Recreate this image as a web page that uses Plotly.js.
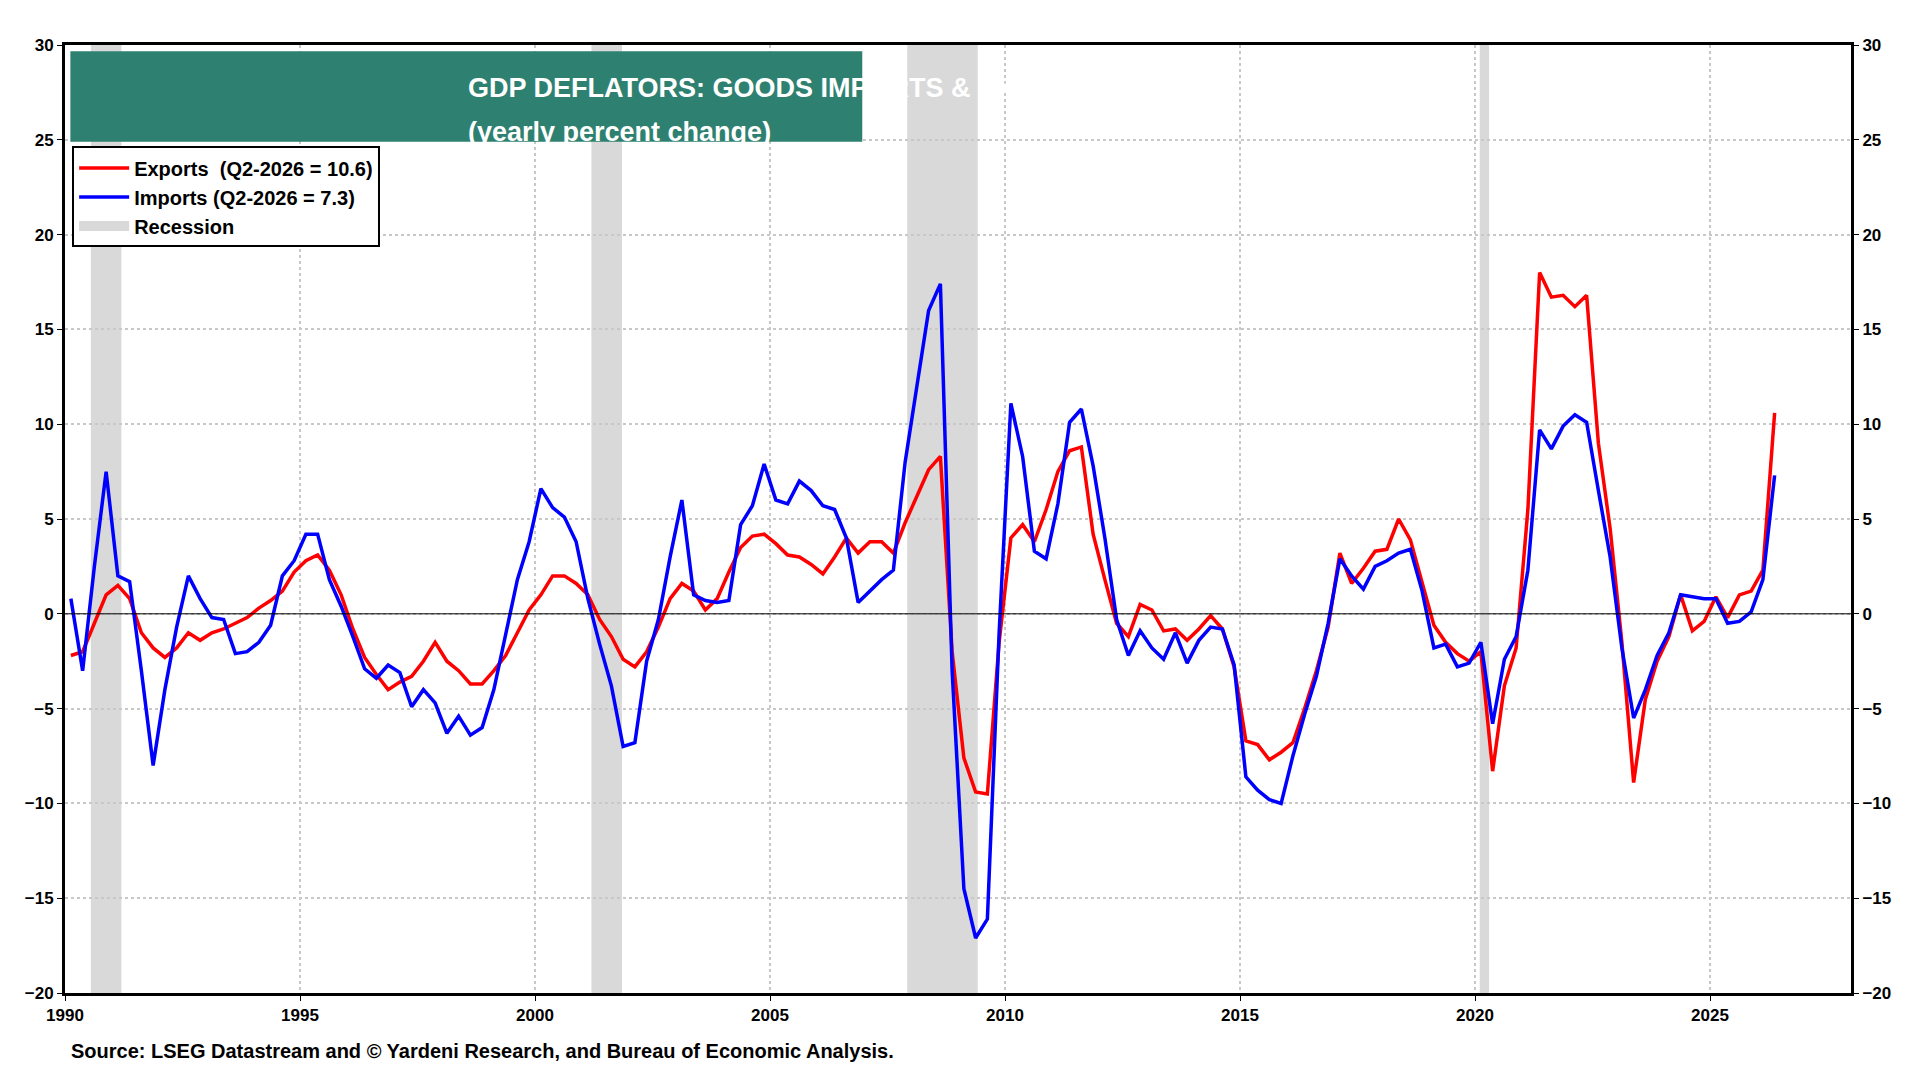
<!DOCTYPE html>
<html><head><meta charset="utf-8">
<script src="https://cdn.plot.ly/plotly-3.0.1.min.js"></script>
<style>body{margin:0;background:#fff}#c{width:1920px;height:1080px}</style>
</head><body><div id="c"></div>
<script>
const startYear = 1990;
const exportsVals = [
-2.2,-2.0,-0.5,1.0, 1.5,0.8,-1.0,-1.8, -2.3,-1.8,-1.0,-1.4, -1.0,-0.8,-0.5,-0.2,
0.3,0.7,1.2,2.2, 2.8,3.1,2.3,1.0, -0.8,-2.3,-3.2,-4.0, -3.6,-3.3,-2.5,-1.5,
-2.5,-3.0,-3.7,-3.7, -3.0,-2.2,-1.0,0.2, 1.0,2.0,2.0,1.6, 1.0,-0.3,-1.2,-2.4,
-2.8,-2.0,-0.7,0.8, 1.6,1.2,0.2,0.8, 2.2,3.5,4.1,4.2, 3.7,3.1,3.0,2.6,
2.1,3.0,4.0,3.2, 3.8,3.8,3.2,4.8, 6.2,7.6,8.3,-2.0, -7.6,-9.4,-9.5,-1.5,
4.0,4.7,3.8,5.5, 7.5,8.6,8.8,4.2, 1.8,-0.5,-1.2,0.5, 0.2,-0.9,-0.8,-1.4,
-0.8,-0.1,-0.8,-2.8, -6.7,-6.9,-7.7,-7.3, -6.8,-5.0,-3.0,-0.7, 3.2,1.6,2.4,3.3,
3.4,5.0,3.9,1.6, -0.6,-1.5,-2.1,-2.5, -2.0,-8.3,-3.8,-1.8, 5.5,18.0,16.7,16.8,
16.2,16.8,9.0,4.5, -1.5,-8.9,-4.5,-2.5, -1.2,1.0,-0.9,-0.4, 0.9,-0.2,1.0,1.2,
2.3,10.6];
const importsVals = [
0.8,-3.0,2.5,7.5, 2.0,1.7,-3.0,-8.0, -4.0,-0.7,2.0,0.8, -0.2,-0.3,-2.1,-2.0,
-1.5,-0.6,2.0,2.8, 4.2,4.2,1.8,0.4, -1.2,-2.9,-3.4,-2.7, -3.1,-4.9,-4.0,-4.7,
-6.3,-5.4,-6.4,-6.0, -4.0,-1.0,1.8,3.8, 6.6,5.6,5.1,3.8, 0.8,-1.6,-3.8,-7.0,
-6.8,-2.5,-0.3,3.0, 6.0,1.0,0.7,0.6, 0.7,4.7,5.7,7.9, 6.0,5.8,7.0,6.5,
5.7,5.5,4.0,0.6, 1.2,1.8,2.3,8.0, 12.0,16.0,17.4,-3.0, -14.5,-17.1,-16.1,-1.0,
11.1,8.3,3.3,2.9, 5.8,10.1,10.8,7.8, 4.0,-0.3,-2.2,-0.9, -1.8,-2.4,-1.0,-2.6,
-1.4,-0.7,-0.8,-2.7, -8.6,-9.3,-9.8,-10.0, -7.5,-5.3,-3.3,-0.5, 2.9,2.0,1.3,2.5,
2.8,3.2,3.4,1.2, -1.8,-1.6,-2.8,-2.6, -1.5,-5.8,-2.4,-1.2, 2.3,9.7,8.7,9.9,
10.5,10.1,6.5,3.0, -1.8,-5.5,-4.0,-2.2, -1.0,1.0,0.9,0.8, 0.8,-0.5,-0.4,0.1,
1.8,7.3];
const recessions = [[1990.55,1991.2],[2001.2,2001.85],[2007.92,2009.42],[2020.1,2020.3]];
const yTicks = [-20,-15,-10,-5,0,5,10,15,20,25,30];
const xTicks = [1990,1995,2000,2005,2010,2015,2020,2025];

const xq = exportsVals.map((_, i) => startYear + Math.floor(i/4) + ((i%4)+0.5)/4);
const F = "Liberation Sans, Arial, sans-serif";
const shapes = recessions.map(r => ({type:'rect',xref:'x',yref:'paper',x0:r[0],x1:r[1],y0:0,y1:1,fillcolor:'#d9d9d9',line:{width:0},layer:'below'}));
shapes.push({type:'line',xref:'paper',yref:'y',x0:0,x1:1,y0:0,y1:0,line:{color:'#000',width:1}});
shapes.push({type:'rect',xref:'paper',yref:'paper',x0:0.003,x1:0.4464,y0:0.898,y1:0.9935,fillcolor:'#2e8170',line:{width:0}});
const traces = [
 {x:xq,y:exportsVals,type:'scatter',mode:'lines',name:'Exports  (Q2-2026 = 10.6)',line:{color:'#ff0000',width:3.5}},
 {x:xq,y:importsVals,type:'scatter',mode:'lines',name:'Imports (Q2-2026 = 7.3)',line:{color:'#0000ff',width:3.5}},
 {x:[null],y:[null],type:'scatter',mode:'lines',name:'Recession',line:{color:'#d9d9d9',width:14}},
 {x:[1990],y:[null],type:'scatter',mode:'lines',yaxis:'y2',showlegend:false,hoverinfo:'skip'}
];
const axisCommon = {range:[-20,30],tickvals:yTicks,ticks:'outside',ticklen:5,tickcolor:'#000',tickfont:{family:F,size:17,color:'#000',weight:'bold'},showline:true,linecolor:'#000',linewidth:3,zeroline:false};
const layout = {
 width:1920,height:1080,paper_bgcolor:'#fff',plot_bgcolor:'#fff',
 margin:{l:65,r:69,t:45,b:87},
 showlegend:true,
 legend:{x:0.004,y:0.893,xanchor:'left',yanchor:'top',bordercolor:'#000',borderwidth:2,bgcolor:'#fff',font:{family:F,size:20,color:'#000',weight:'bold'},tracegroupgap:0,itemwidth:50},
 xaxis:{range:[1990,2028],tickvals:xTicks,ticks:'outside',ticklen:5,tickcolor:'#000',tickfont:{family:F,size:17,color:'#000',weight:'bold'},showline:true,mirror:true,linecolor:'#000',linewidth:3,showgrid:true,gridcolor:'#c8c8c8',griddash:'dot',gridwidth:1.5,zeroline:false},
 yaxis:Object.assign({},axisCommon,{showgrid:true,gridcolor:'#c8c8c8',griddash:'dot',gridwidth:1.5}),
 yaxis2:Object.assign({},axisCommon,{overlaying:'y',side:'right',showgrid:false}),
 shapes:shapes,
 annotations:[
  {xref:'paper',yref:'paper',x:0.2248,y:0.973,text:'GDP DEFLATORS: GOODS IMPORTS & EXPORTS',showarrow:false,font:{family:F,size:27,color:'#fff',weight:'bold'}},
  {xref:'paper',yref:'paper',x:0.2248,y:0.926,text:'(yearly percent change)',showarrow:false,font:{family:F,size:27,color:'#fff',weight:'bold'}},
  {xref:'paper',yref:'paper',x:0.002,y:-0.075,xanchor:'left',text:'Source: LSEG Datastream and © Yardeni Research, and Bureau of Economic Analysis.',showarrow:false,font:{family:F,size:20,color:'#000',weight:'bold'}}
 ]
};
Plotly.newPlot('c',traces,layout,{displayModeBar:false});
</script></body></html>
